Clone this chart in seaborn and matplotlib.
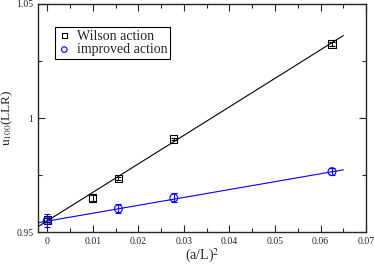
import numpy as np
import matplotlib
matplotlib.use("Agg")
import matplotlib.pyplot as plt
import seaborn as sns
from matplotlib.ticker import MultipleLocator

# data
x_wilson = [0.0, 0.01, 0.015625, 0.027778, 0.0625]
y_wilson = [0.9553, 0.9650, 0.9735, 0.9908, 1.0325]
e_wilson = [0.0010, 0.0012, 0.0008, 0.0006, 0.0008]

x_impr = [0.0, 0.015625, 0.027778, 0.0625]
y_impr = [0.9550, 0.9602, 0.9650, 0.9765]
e_impr = [0.0030, 0.0020, 0.0020, 0.0015]

# linear fits (intercept, slope) and fit range
fit_wilson = (0.9549, 1.25)
fit_impr = (0.9548, 0.346)
fit_range = [-0.002, 0.065]

sns.set_style("ticks")
plt.rcParams['font.family'] = ['Liberation Serif', 'DejaVu Serif']
plt.rcParams['mathtext.fontset'] = 'stix'

fig, ax = plt.subplots(figsize=(3.74, 2.64), dpi=100)

xf = np.array(fit_range)
sns.lineplot(x=xf, y=fit_wilson[0] + fit_wilson[1] * xf, color="black", lw=0.8, ax=ax)
sns.lineplot(x=xf, y=fit_impr[0] + fit_impr[1] * xf, color="blue", lw=0.8, ax=ax)

ax.errorbar(x_wilson, y_wilson, yerr=e_wilson, fmt="none", ecolor="black", elinewidth=0.8, capsize=2.5, capthick=0.8)
ax.errorbar(x_impr, y_impr, yerr=e_impr, fmt="none", ecolor="blue", elinewidth=0.8, capsize=2.5, capthick=0.8)

sns.scatterplot(x=x_wilson, y=y_wilson, marker="s", s=28, facecolor="none", edgecolor="black", linewidth=0.8, ax=ax, label="Wilson action", zorder=5)
sns.scatterplot(x=x_impr, y=y_impr, marker="o", s=32, facecolor="none", edgecolor="blue", linewidth=0.8, ax=ax, label="improved action", zorder=5)

ax.set_xlim(-0.002, 0.07)
ax.set_ylim(0.95, 1.05)
ax.xaxis.set_major_locator(MultipleLocator(0.01))
ax.xaxis.set_minor_locator(MultipleLocator(0.005))
ax.yaxis.set_major_locator(MultipleLocator(0.05))
ax.yaxis.set_minor_locator(MultipleLocator(0.025))
ax.xaxis.set_major_formatter(plt.FuncFormatter(lambda v, p: "%g" % round(v, 4)))
ax.yaxis.set_major_formatter(plt.FuncFormatter(lambda v, p: "%g" % round(v, 4)))
ax.tick_params(which="both", direction="in", top=True, right=True, labelsize=7, width=0.8)
ax.tick_params(which="major", length=5)
ax.tick_params(which="minor", length=3)
for s in ax.spines.values():
    s.set_linewidth(1.0)

ax.set_xlabel("(a/L)$^2$", fontsize=10, labelpad=1)
ax.set_ylabel("u$_{100}$(LLR)", fontsize=9.5)
ax.yaxis.set_label_coords(-0.072, 0.5)

leg = ax.legend(loc="upper left", bbox_to_anchor=(0.05, 0.9), fontsize=10, frameon=True, fancybox=False,
                edgecolor="black", framealpha=1, handletextpad=0.4, borderpad=0.2, labelspacing=0.05,
                handlelength=1.0, borderaxespad=0, markerscale=0.7)
leg.get_frame().set_linewidth(0.8)

fig.subplots_adjust(left=0.102, right=0.979, top=0.985, bottom=0.121)
fig.savefig("out.png", dpi=100)
